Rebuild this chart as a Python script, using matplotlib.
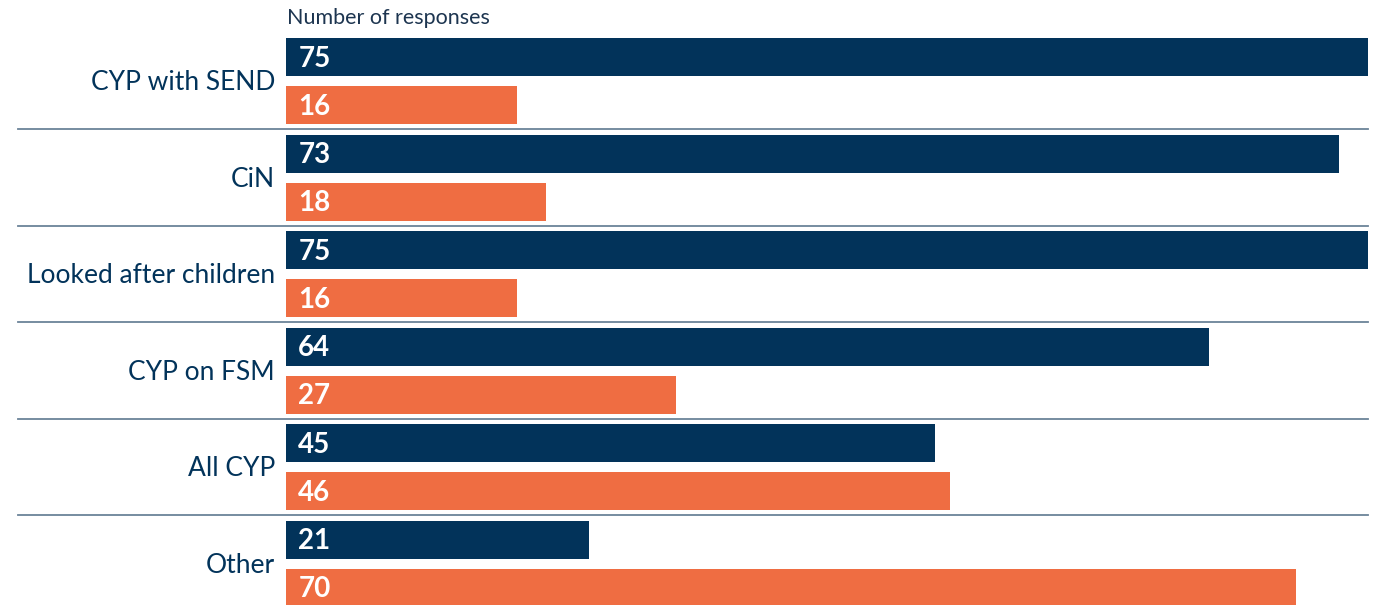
import numpy as np
import matplotlib.pyplot as plt

categories = ["CYP with SEND", "CiN", "Looked after children", "CYP on FSM", "All CYP", "Other"]
navy_vals = [75, 73, 75, 64, 45, 21]
orange_vals = [16, 18, 16, 27, 46, 70]

NAVY = "#02335a"
ORANGE = "#ef6d42"
LINE = "#6b8399"

W, H = 1382, 605
fig = plt.figure(figsize=(W / 100, H / 100), dpi=100)
left_px = 286
ax = fig.add_axes([left_px / W, 0, 1 - left_px / W, 1])

pitch = 96.5  # px per group
px_per_unit = (1368 - left_px) / 75
y = np.arange(len(categories))
off = 24 / pitch
bh = 38 / pitch

ax.barh(y - off, navy_vals, height=bh, color=NAVY, align="center")
ax.barh(y + off, orange_vals, height=bh, color=ORANGE, align="center")

ax.set_xlim(0, (W - left_px) / px_per_unit)
ax.set_ylim(5 + (H - (81 + 5 * pitch)) / pitch, -81 / pitch)

for i in range(len(categories)):
    ax.text(0.85, y[i] - off + 0.02, str(navy_vals[i]), color="white", fontsize=20,
            fontweight="bold", family="Lato", va="center", ha="left")
    ax.text(0.85, y[i] + off + 0.02, str(orange_vals[i]), color="white", fontsize=20,
            fontweight="bold", family="Lato", va="center", ha="left")
    ax.text(-11 / px_per_unit, y[i] + 0.02, categories[i], color=NAVY, fontsize=19,
            family="Lato", va="center", ha="right")

# group separators
axw = W - left_px
for i in range(len(categories) - 1):
    ax.axhline(i + 0.5, xmin=(18 - left_px) / axw, xmax=(1368 - left_px) / axw,
               color=LINE, lw=1.3, clip_on=False)

ax.text(0.05, -63 / pitch, "Number of responses", color="#1d3550", fontsize=15.5,
        family="Lato", va="center", ha="left")

ax.axis("off")
fig.savefig("out.png", dpi=100)
